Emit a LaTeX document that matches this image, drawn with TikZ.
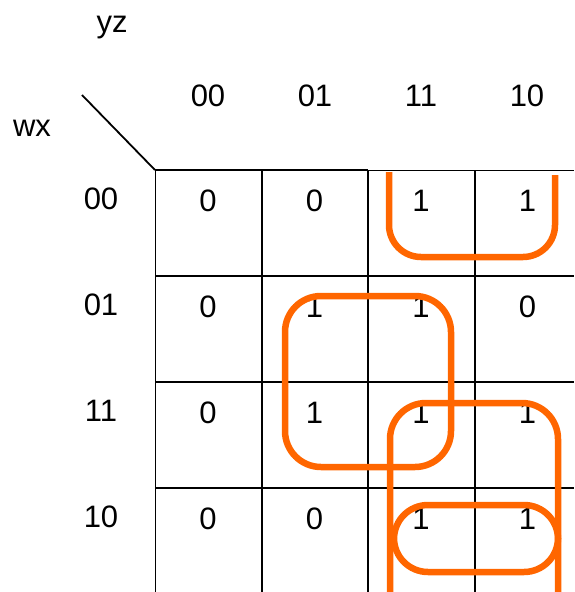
\documentclass[tikz,border=0pt]{standalone}
\usepackage{fontspec}
\setmainfont{Liberation Sans}
\definecolor{kmaporange}{RGB}{255,102,0}
\begin{document}
\begin{tikzpicture}[x=1pt,y=-1pt,
  lbl/.style={inner sep=0pt,anchor=base,font=\fontsize{31}{31}\selectfont},
  grid/.style={line width=2.5pt,black},
  thin/.style={line width=1pt,black},
  grp/.style={line width=6.5pt,draw=kmaporange,rounded corners=#1},
  grp/.default=33]
\useasboundingbox (0,0) rectangle (574,592);
% labels
\node[lbl] (yz) at (112,32) {yz};
\node[lbl] (wx) at (32,136) {wx};
\foreach \t/\x [count=\i] in {00/208,01/315,11/421,10/527}
  \node[lbl] (c\i) at (\x,106) {\t};
\foreach \t/\y [count=\i] in {00/209,01/315,11/421,10/527}
  \node[lbl] (r\i) at (101,\y) {\t};
% grid
\coordinate (corner) at (155,170);
\coordinate (diag) at (82,95);
\draw[line width=1.8pt] (diag) -- (corner);
\draw[grid] (corner) -- (368,170);
\draw[thin] (368,170) -- (574,170);
\draw[thin] (corner) -- (155,592);
\foreach \x in {262,368,475} \draw[grid] (\x,170) -- (\x,592);
\foreach \y in {276,382,488} \draw[grid] (155,\y) -- (574,\y);
% cell values
\foreach \v [count=\i] in {0,0,1,1} { \node[lbl] (a\i) at ({208+106.5*(\i-1)},211) {\v}; }
\foreach \v [count=\i] in {0,1,1,0} { \node[lbl] (b\i) at ({208+106.5*(\i-1)},317) {\v}; }
\foreach \v [count=\i] in {0,1,1,1} { \node[lbl] (d\i) at ({208+106.5*(\i-1)},423) {\v}; }
\foreach \v [count=\i] in {0,0,1,1} { \node[lbl] (e\i) at ({208+106.5*(\i-1)},529) {\v}; }
% groups
\draw[grp=32] (389,172) -- (389,257) -- (555,257) -- (555,175);
\draw[grp=36] (285,296) rectangle (451,467);
\draw[grp=36] (390,596) -- (390,403) -- (558,403) -- (558,596);
\draw[grp=34] (394,505) rectangle (558,572);
\end{tikzpicture}
\end{document}
